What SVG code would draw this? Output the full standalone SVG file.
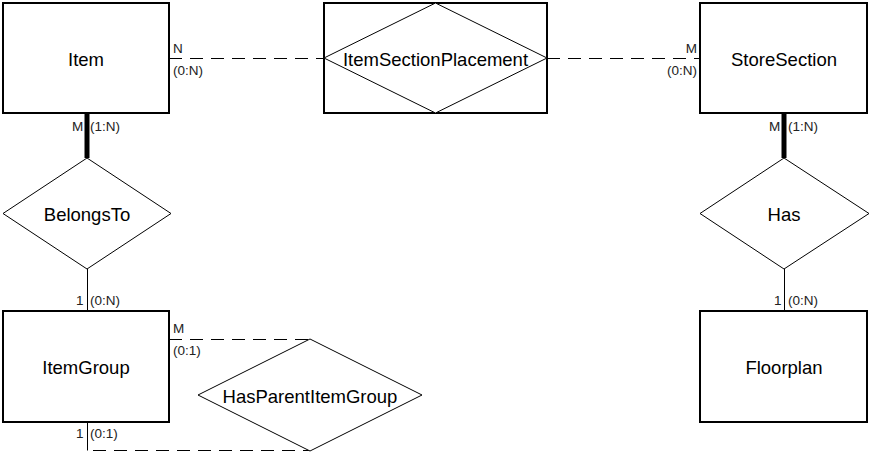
<svg xmlns="http://www.w3.org/2000/svg" width="873" height="455" viewBox="0 0 873 455">
<style>
.ent{fill:#fff;stroke:#000;stroke-width:2}
.rel{fill:#fff;stroke:#000;stroke-width:1}
.name{font-family:"Liberation Sans",Arial,sans-serif;font-size:18.5px;fill:#000;text-anchor:middle;dominant-baseline:central}
.card{font-family:"Liberation Sans",Arial,sans-serif;font-size:13.5px;fill:#222}
.thin{stroke:#000;stroke-width:1;fill:none}
.dash{stroke:#000;stroke-width:1;fill:none;stroke-dasharray:13 8}
.thick{stroke:#000;stroke-width:5;fill:none}
</style>
<rect width="873" height="455" fill="#fff"/>
<g id="connectors">
<line class="dash" x1="169" y1="58.5" x2="324" y2="58.5"/>
<line class="dash" x1="547" y1="58.5" x2="700" y2="58.5"/>
<line class="thick" x1="87" y1="113" x2="87" y2="158"/>
<line class="thin" x1="87.5" y1="269" x2="87.5" y2="311"/>
<line class="thick" x1="784" y1="113" x2="784" y2="158"/>
<line class="thin" x1="784.5" y1="269" x2="784.5" y2="311"/>
<line class="dash" x1="169" y1="339.5" x2="310" y2="339.5"/>
<line class="thin" x1="87.5" y1="422" x2="87.5" y2="450.5"/>
<line class="dash" x1="87" y1="450.5" x2="310" y2="450.5" style="stroke-dashoffset:-6"/>
</g>
<g id="Item">
<rect class="ent" x="3" y="3" width="166" height="110"/>
<text class="name" x="86" y="59">Item</text>
<text class="card" x="173" y="53">N</text>
<text class="card" x="173" y="75">(0:N)</text>
<text class="card" x="72" y="131">M</text>
<text class="card" x="90" y="131">(1:N)</text>
</g>
<g id="ItemSectionPlacement">
<rect class="ent" x="324" y="3" width="223" height="110"/>
<polygon class="rel" points="324,58 435.5,3 547,58 435.5,113"/>
<text class="name" x="435.5" y="59">ItemSectionPlacement</text>
</g>
<g id="StoreSection">
<rect class="ent" x="700" y="3" width="167" height="110"/>
<text class="name" x="784" y="59">StoreSection</text>
<text class="card" x="697" y="53" text-anchor="end">M</text>
<text class="card" x="697" y="75" text-anchor="end">(0:N)</text>
<text class="card" x="769" y="131">M</text>
<text class="card" x="788" y="131">(1:N)</text>
</g>
<g id="BelongsTo">
<polygon class="rel" points="3,213.5 87,158 171,213.5 87,269"/>
<text class="name" x="87" y="214">BelongsTo</text>
</g>
<g id="Has">
<polygon class="rel" points="700,213.5 784,158 869,213.5 784,269"/>
<text class="name" x="784" y="214">Has</text>
</g>
<g id="ItemGroup">
<rect class="ent" x="3" y="311" width="166" height="111"/>
<text class="name" x="86" y="367">ItemGroup</text>
<text class="card" x="76" y="305">1</text>
<text class="card" x="90" y="305">(0:N)</text>
<text class="card" x="173" y="333">M</text>
<text class="card" x="173" y="355">(0:1)</text>
<text class="card" x="76" y="438">1</text>
<text class="card" x="90" y="438">(0:1)</text>
</g>
<g id="HasParentItemGroup">
<polygon class="rel" points="198,395 310,339 422,395 310,451"/>
<text class="name" x="310" y="396">HasParentItemGroup</text>
</g>
<g id="Floorplan">
<rect class="ent" x="700" y="311" width="167" height="111"/>
<text class="name" x="784" y="367">Floorplan</text>
<text class="card" x="774" y="305">1</text>
<text class="card" x="788" y="305">(0:N)</text>
</g>
</svg>
